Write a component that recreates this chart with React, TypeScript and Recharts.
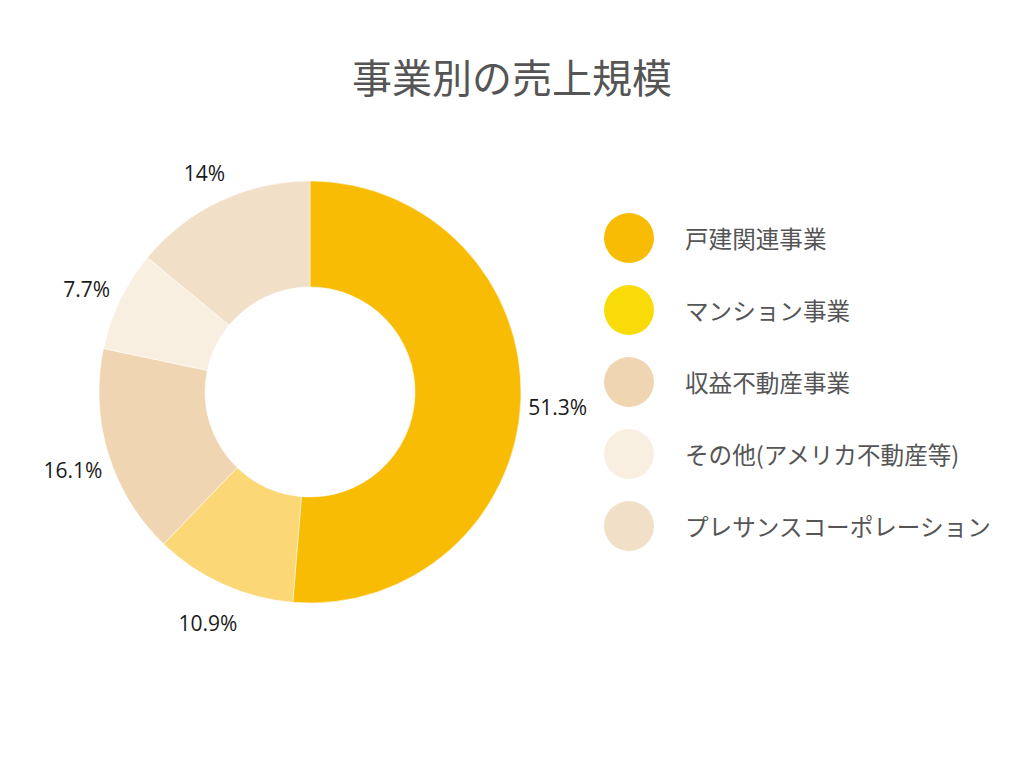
import { PieChart, Pie, Cell } from "recharts";

const categories = ["戸建関連事業", "マンション事業", "収益不動産事業", "その他(アメリカ不動産等)", "プレサンスコーポレーション"];
const shares = [51.3, 10.9, 16.1, 7.7, 14];
const sliceColors = ["#f9bc05", "#fbd775", "#efd5b2", "#f8efe1", "#f1dfc7"];
const legendColors = ["#f9bc05", "#f9db0a", "#efd5b2", "#f8efe1", "#f1dfc7"];

const data = categories.map((name, i) => ({ name, value: shares[i] }));

const RAD = Math.PI / 180;

function renderLabel(props: any) {
  const { cx, cy, midAngle, index } = props;
  const r = 248;
  const x = cx + r * Math.cos(-midAngle * RAD);
  const y = cy + r * Math.sin(-midAngle * RAD) + 5;
  return (
    <text
      x={x}
      y={y}
      textAnchor="middle"
      dominantBaseline="central"
      fill="#1a1a1a"
      fontSize={21}
      fontFamily="'Open Sans', sans-serif"
    >
      {`${shares[index]}%`}
    </text>
  );
}

export default function App() {
  return (
    <div
      style={{
        position: "absolute",
        left: 0,
        top: 0,
        width: 1024,
        height: 768,
        background: "#fff",
        fontFamily: "'Noto Sans CJK JP', sans-serif",
      }}
    >
      <div
        style={{
          position: "absolute",
          top: 54,
          left: 0,
          width: 1024,
          textAlign: "center",
          fontSize: 40,
          lineHeight: "44px",
          color: "#555555",
        }}
      >
        事業別の売上規模
      </div>

      <PieChart width={1024} height={768} margin={{ top: 0, right: 0, bottom: 0, left: 0 }}>
        <Pie
          data={data}
          dataKey="value"
          nameKey="name"
          cx={310}
          cy={392}
          innerRadius={105}
          outerRadius={211}
          startAngle={90}
          endAngle={-270}
          stroke="#ffffff"
          strokeWidth={0.5}
          label={renderLabel}
          labelLine={false}
          isAnimationActive={false}
        >
          {data.map((d, i) => (
            <Cell key={d.name} fill={sliceColors[i]} />
          ))}
        </Pie>
      </PieChart>

      {/* legend */}
      <div style={{ position: "absolute", left: 604, top: 213 }}>
        {categories.map((name, i) => (
          <div
            key={name}
            style={{ display: "flex", alignItems: "center", height: 50, marginBottom: 22 }}
          >
            <div
              style={{
                width: 50,
                height: 50,
                borderRadius: "50%",
                background: legendColors[i],
              }}
            />
            <span style={{ marginLeft: 31, fontSize: 23.6, color: "#555555" }}>{name}</span>
          </div>
        ))}
      </div>
    </div>
  );
}
